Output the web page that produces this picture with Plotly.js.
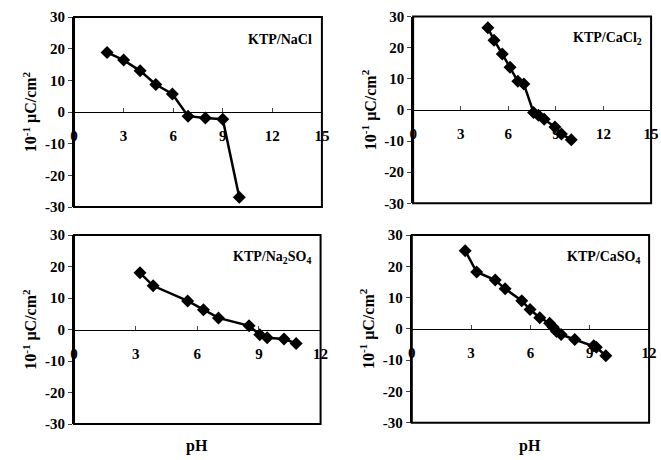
<!DOCTYPE html>
<html><head><meta charset="utf-8">
<script src="https://cdn.plot.ly/plotly-3.0.1.min.js"></script>
<style>html,body{margin:0;padding:0;background:#fff}#c{width:661px;height:460px}</style>
</head><body><div id="c"></div>
<script>
// Data (pH vs surface charge, 10^-1 µC/cm²)
const naclPH = [2.0, 3.0, 4.0, 4.95, 5.95, 6.9, 7.95, 9.0, 10.0];
const naclQ  = [18.8, 16.4, 13.0, 8.7, 5.7, -1.3, -1.9, -2.3, -26.9];
const cacl2PH = [4.71, 5.10, 5.62, 6.11, 6.60, 6.98, 7.59, 7.90, 8.26, 8.94, 9.35, 9.97];
const cacl2Q  = [26.4, 22.4, 18.0, 13.7, 9.2, 8.3, -0.8, -1.7, -3.0, -5.5, -7.7, -9.6];
const na2so4PH = [3.21, 3.85, 5.53, 6.30, 7.03, 8.52, 9.04, 9.40, 10.22, 10.81];
const na2so4Q  = [18.0, 13.9, 9.1, 6.3, 3.7, 1.2, -1.6, -2.6, -3.0, -4.4];
const caso4PH = [2.70, 3.28, 4.22, 4.72, 5.56, 5.98, 6.47, 6.97, 7.15, 7.32, 7.55, 8.24, 9.20, 9.33, 9.81];
const caso4Q  = [25.0, 18.2, 15.6, 12.8, 9.0, 6.2, 3.6, 1.8, 0.5, -0.8, -1.8, -3.4, -5.4, -5.9, -8.6];
const panelNames = ['KTP/NaCl', 'KTP/CaCl<sub>2</sub>', 'KTP/Na<sub>2</sub>SO<sub>4</sub>', 'KTP/CaSO<sub>4</sub>'];
const yTickVals = [-30, -20, -10, 0, 10, 20, 30];
const yTickText = ['-30', '-20', '-10', '0', '10', '20', '30'];
const xTicks15 = [0, 3, 6, 9, 12, 15];
const xTicks12 = [0, 3, 6, 9, 12];
const yTitle = '10<sup>-1</sup> μC/cm<sup>2</sup>';
const xTitle = 'pH';

const F = 'Liberation Serif, Times New Roman, serif';
const series = [[naclPH, naclQ], [cacl2PH, cacl2Q], [na2so4PH, na2so4Q], [caso4PH, caso4Q]];
const xDom = [[0.112, 0.487], [0.625, 0.985], [0.112, 0.485], [0.623, 0.982]];
const yDom = [[0.55, 0.963], [0.558, 0.964], [0.078, 0.489], [0.081, 0.489]];
const xMax = [15, 15, 12, 12];
const xTickSets = [xTicks15, xTicks15, xTicks12, xTicks12];

const data = [];
const layout = {
  width: 661, height: 460, margin: {l: 0, r: 0, t: 0, b: 0},
  paper_bgcolor: '#fff', plot_bgcolor: '#fff', showlegend: false,
  font: {family: F, color: '#000', size: 15},
  shapes: [], annotations: []
};
for (let i = 0; i < 4; i++) {
  const s = i === 0 ? '' : String(i + 1);
  data.push({
    x: series[i][0], y: series[i][1], xaxis: 'x' + s, yaxis: 'y' + s,
    mode: 'lines+markers', type: 'scatter', cliponaxis: false,
    line: {color: '#000', width: 2.5},
    marker: {symbol: 'diamond', size: 10, color: '#000'}
  });
  layout['xaxis' + s] = {
    domain: xDom[i], range: [0, xMax[i]], anchor: 'free',
    position: (yDom[i][0] + yDom[i][1]) / 2,
    tickvals: xTickSets[i], ticks: 'inside', ticklen: 4, tickwidth: 1,
    showline: true, linewidth: 1, linecolor: '#000', showgrid: false, zeroline: false,
    ticklabelstandoff: 10, tickfont: {family: F, size: 15, weight: 'bold'},
    fixedrange: true
  };
  layout['yaxis' + s] = {
    domain: yDom[i], range: [-30, 30], anchor: 'x' + s,
    tickvals: yTickVals, ticktext: yTickText, ticks: 'outside', ticklen: 4, tickwidth: 1,
    showline: true, linewidth: 2, linecolor: '#000', showgrid: false, zeroline: false,
    tickfont: {family: F, size: 15, weight: 'bold'},
    title: {text: yTitle, font: {family: F, size: 16, weight: 'bold'}, standoff: 4},
    fixedrange: true
  };
  if (i >= 2) {
    layout.annotations.push({
      xref: 'x' + s + ' domain', yref: 'paper', x: 0.5, y: 0.03, yanchor: 'middle',
      text: xTitle, showarrow: false, font: {family: F, size: 16, weight: 'bold'}
    });
  }
  layout.shapes.push({
    type: 'rect', xref: 'x' + s + ' domain', yref: 'y' + s + ' domain',
    x0: 0, x1: 1, y0: 0, y1: 1, line: {color: '#000', width: 2}
  });
  layout.annotations.push({
    xref: 'x' + s + ' domain', yref: 'y' + s + ' domain', x: 0.97, y: 0.88,
    xanchor: 'right', yanchor: 'middle', text: panelNames[i], showarrow: false,
    font: {family: F, size: 14, weight: 'bold'}
  });
}
Plotly.newPlot('c', data, layout, {staticPlot: true});
</script></body></html>
